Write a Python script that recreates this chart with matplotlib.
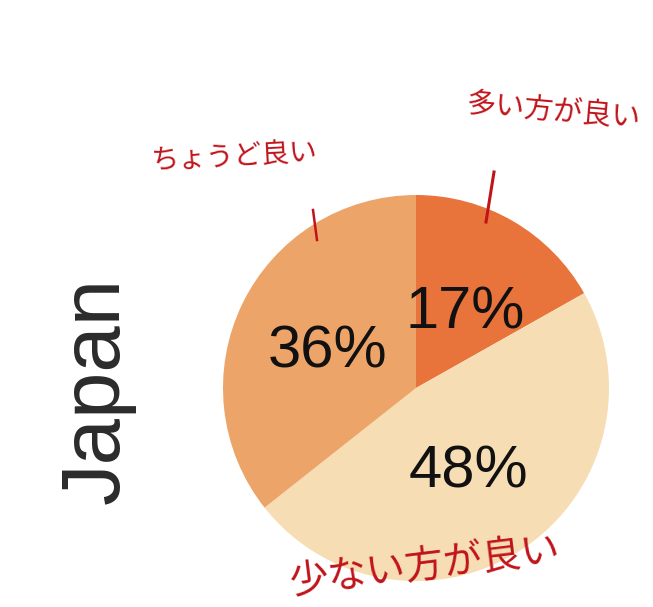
import matplotlib
matplotlib.use("Agg")
import matplotlib.pyplot as plt

# data
answers = ["多い方が良い", "少ない方が良い", "ちょうど良い"]
shares = [17, 48, 36]
pct_labels = ["17%", "48%", "36%"]
colors = ["#E8733B", "#F6DDB4", "#EDA468"]
country = "Japan"

W, H = 653, 607
fig = plt.figure(figsize=(W / 100, H / 100), dpi=100)
ax = fig.add_axes([0, 0, 1, 1])

cx, cy, r = 416, H - 388, 193
ax.pie(shares, colors=colors, startangle=90, counterclock=False,
       center=(cx, cy), radius=r, wedgeprops=dict(linewidth=0))

ax.set_xlim(0, W)
ax.set_ylim(0, H)
ax.set_aspect("equal")
ax.axis("off")

# percent labels inside the slices
pos = [(465, 313), (468, 472), (327, 352)]
for (x, y), t in zip(pos, pct_labels):
    ax.text(x, H - y, t, fontsize=43, family="Liberation Sans",
            ha="center", va="center", color="#111111")

ax.text(97, H - 390, country, fontsize=60, family="Liberation Sans",
        rotation=90, ha="center", va="center", color="#2b2b2b")

# handwritten notes in red
red = "#C0141A"
jp = ["Noto Sans CJK JP", "DejaVu Sans"]
ax.text(553, H - 112, answers[0], fontsize=21, family=jp, color=red,
        ha="center", va="center", rotation=-5)
ax.text(235, H - 157, answers[2], fontsize=20, family=jp, color=red,
        ha="center", va="center", rotation=3)
ax.text(425, H - 566, answers[1], fontsize=28, family=jp, color=red,
        ha="center", va="center", rotation=7)
ax.plot([494, 486], [H - 172, H - 222], color=red, lw=2.2)
ax.plot([313, 317], [H - 210, H - 240], color=red, lw=1.8)

fig.savefig("out.png", dpi=100)
